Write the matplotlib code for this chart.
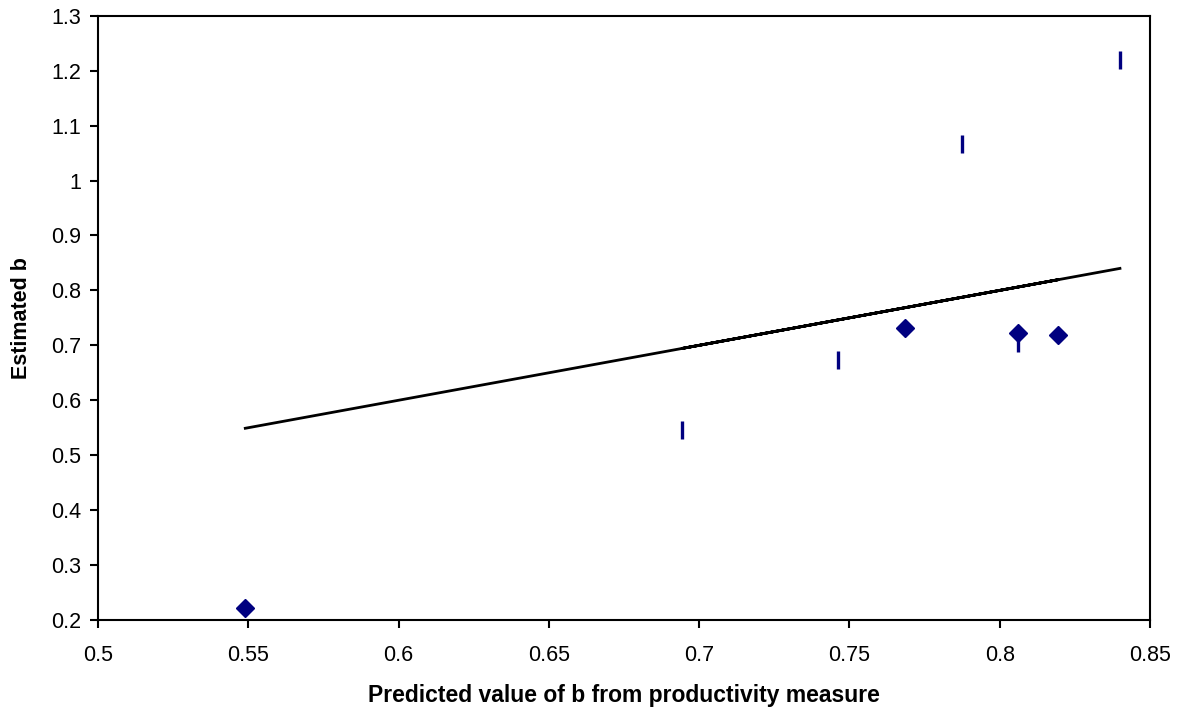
import matplotlib
matplotlib.use("Agg")
import matplotlib.pyplot as plt

# Data
diamond_x = [0.549, 0.7685, 0.806, 0.8194]
diamond_y = [0.222, 0.7315, 0.7224, 0.7187]
bar_x = [0.6943, 0.7462, 0.7875, 0.806, 0.840]
bar_y = [0.5458, 0.6733, 1.0664, 0.705, 1.219]
line_x = [0.549, 0.7685, 0.806, 0.8194, 0.6943, 0.7462, 0.7875, 0.840]
line_y = [0.549, 0.7685, 0.806, 0.8194, 0.6943, 0.7462, 0.7875, 0.840]
xticks = [0.5, 0.55, 0.6, 0.65, 0.7, 0.75, 0.8, 0.85]
yticks = [0.2, 0.3, 0.4, 0.5, 0.6, 0.7, 0.8, 0.9, 1.0, 1.1, 1.2, 1.3]
xtick_labels = ["0.5", "0.55", "0.6", "0.65", "0.7", "0.75", "0.8", "0.85"]
ytick_labels = ["0.2", "0.3", "0.4", "0.5", "0.6", "0.7", "0.8", "0.9", "1", "1.1", "1.2", "1.3"]

plt.rcParams['font.family'] = ['Liberation Sans', 'DejaVu Sans']

fig = plt.figure(figsize=(11.87, 7.15), dpi=100)
ax = fig.add_axes([98/1187, 1-620/715, (1150-98)/1187, (620-15.7)/715])

ax.plot(line_x, line_y, color='black', lw=2.0, zorder=2)
ax.plot(bar_x, bar_y, linestyle='none', marker='|', markersize=13, markeredgewidth=2.4,
        color='#000080', zorder=3)
ax.plot(diamond_x, diamond_y, linestyle='none', marker='D', markersize=9,
        color='#000080', zorder=4)

ax.set_xlim(0.5, 0.85)
ax.set_ylim(0.2, 1.3)
ax.set_xticks(xticks)
ax.set_xticklabels(xtick_labels)
ax.set_yticks(yticks)
ax.set_yticklabels(ytick_labels)

for s in ax.spines.values():
    s.set_linewidth(1.5)
    s.set_color('black')
ax.tick_params(axis='both', direction='out', length=6, width=1.5, labelsize=15.5, colors='black')
ax.tick_params(axis='y', pad=6)
ax.tick_params(axis='x', pad=12)

ax.set_xlabel("Predicted value of b from productivity measure", fontsize=16.5, fontweight='bold', labelpad=13)
ax.set_ylabel("Estimated b", fontsize=15.5, fontweight='bold', labelpad=14)

fig.savefig("out.png", dpi=100, facecolor='white')
